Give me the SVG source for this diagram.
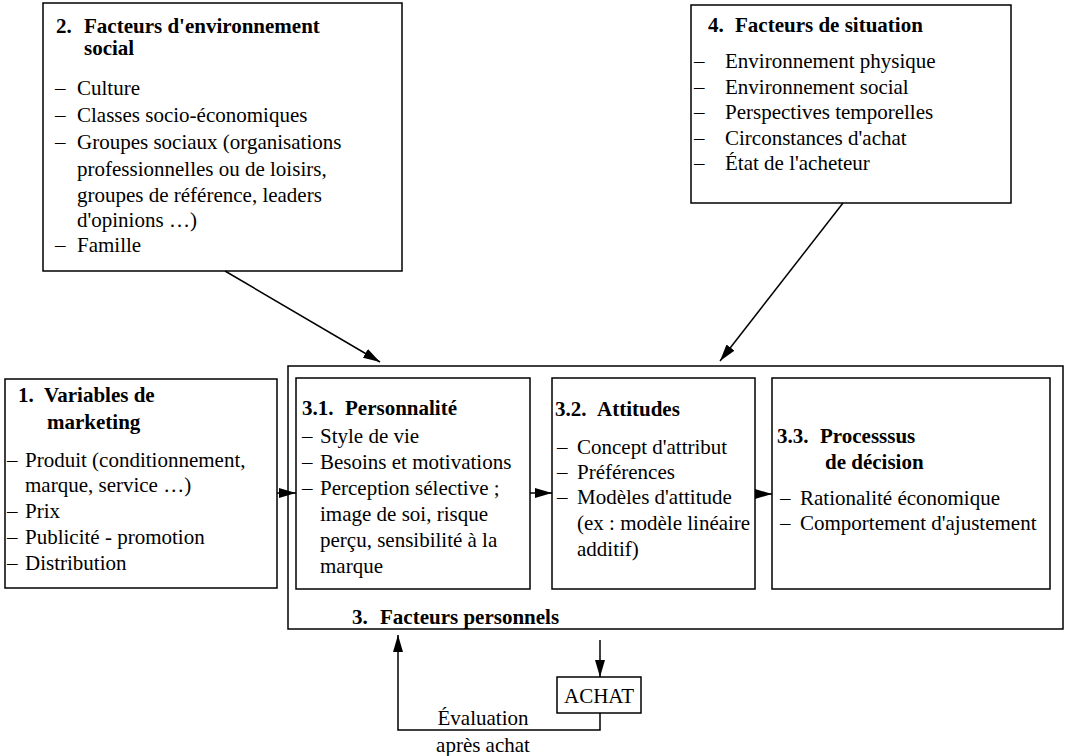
<svg xmlns="http://www.w3.org/2000/svg" width="1074" height="756" viewBox="0 0 1074 756">
<style>
text{font-family:"Liberation Serif","Times New Roman",serif;font-size:21px;fill:#000}
.b{font-weight:bold}
.box{fill:none;stroke:#000;stroke-width:1.5}
.ln{fill:none;stroke:#000;stroke-width:1.5}
</style>
<defs>
<marker id="ah" markerUnits="userSpaceOnUse" markerWidth="18" markerHeight="10" refX="17" refY="5" orient="auto">
<path d="M0,0 L17,5 L0,10 z" fill="#000"/>
</marker>
</defs>
<rect width="1074" height="756" fill="#fff"/>

<g id="n2">
<rect class="box" x="43" y="3" width="359" height="268"/>
<text class="b" x="56" y="33">2.</text><text class="b" x="84" y="33">Facteurs d'environnement</text>
<text class="b" x="84" y="55">social</text>
<text x="55" y="95">–</text><text x="77" y="95">Culture</text>
<text x="55" y="122">–</text><text x="77" y="122">Classes socio-économiques</text>
<text x="55" y="149">–</text><text x="77" y="149">Groupes sociaux (organisations</text>
<text x="77" y="176">professionnelles ou de loisirs,</text>
<text x="77" y="202">groupes de référence, leaders</text>
<text x="77" y="227">d'opinions …)</text>
<text x="55" y="252">–</text><text x="77" y="252">Famille</text>
</g>

<g id="n4">
<rect class="box" x="691" y="5" width="320" height="198"/>
<text class="b" x="708" y="32">4.</text><text class="b" x="735" y="32">Facteurs de situation</text>
<text x="694" y="68">–</text><text x="725" y="68">Environnement physique</text>
<text x="694" y="94">–</text><text x="725" y="94">Environnement social</text>
<text x="694" y="119">–</text><text x="725" y="119">Perspectives temporelles</text>
<text x="694" y="145">–</text><text x="725" y="145">Circonstances d'achat</text>
<text x="694" y="170">–</text><text x="725" y="170">État de l'acheteur</text>
</g>

<g id="n1">
<rect class="box" x="5" y="379" width="272" height="209"/>
<text class="b" x="18" y="402">1.</text><text class="b" x="44" y="402">Variables de</text>
<text class="b" x="47" y="429">marketing</text>
<text x="7" y="467">–</text><text x="25" y="467">Produit (conditionnement,</text>
<text x="25" y="492">marque, service …)</text>
<text x="7" y="518">–</text><text x="25" y="518">Prix</text>
<text x="7" y="544">–</text><text x="25" y="544">Publicité - promotion</text>
<text x="7" y="570">–</text><text x="25" y="570">Distribution</text>
</g>

<g id="n3">
<rect class="box" x="288" y="366" width="775" height="263"/>
<text class="b" x="352" y="624">3.</text><text class="b" x="380" y="624">Facteurs personnels</text>
</g>

<g id="n31">
<rect class="box" x="296" y="378" width="234" height="211"/>
<text class="b" x="302" y="415">3.1.</text><text class="b" x="345" y="415">Personnalité</text>
<text x="302" y="443">–</text><text x="320" y="443">Style de vie</text>
<text x="302" y="469">–</text><text x="320" y="469">Besoins et motivations</text>
<text x="302" y="495">–</text><text x="320" y="495">Perception sélective ;</text>
<text x="320" y="521">image de soi, risque</text>
<text x="320" y="547">perçu, sensibilité à la</text>
<text x="320" y="573">marque</text>
</g>

<g id="n32">
<rect class="box" x="552" y="378" width="203" height="211"/>
<text class="b" x="555" y="416">3.2.</text><text class="b" x="597" y="416">Attitudes</text>
<text x="557" y="454">–</text><text x="577" y="454">Concept d'attribut</text>
<text x="557" y="479">–</text><text x="577" y="479">Préférences</text>
<text x="557" y="504">–</text><text x="577" y="504">Modèles d'attitude</text>
<text x="577" y="530">(ex : modèle linéaire</text>
<text x="577" y="556">additif)</text>
</g>

<g id="n33">
<rect class="box" x="772" y="378" width="278" height="211"/>
<text class="b" x="777" y="443">3.3.</text><text class="b" x="820" y="443">Processsus</text>
<text class="b" x="825" y="469">de décision</text>
<text x="780" y="505">–</text><text x="800" y="505">Rationalité économique</text>
<text x="780" y="530">–</text><text x="800" y="530">Comportement d'ajustement</text>
</g>

<g id="achat">
<rect class="box" x="557" y="677" width="84" height="36"/>
<text x="599" y="703" text-anchor="middle">ACHAT</text>
</g>

<g id="connectors">
<line class="ln" x1="225" y1="271" x2="380" y2="362" marker-end="url(#ah)"/>
<line class="ln" x1="843" y1="203" x2="720" y2="361" marker-end="url(#ah)"/>
<line class="ln" x1="277" y1="493" x2="296" y2="493" marker-end="url(#ah)"/>
<line class="ln" x1="530" y1="493" x2="552" y2="493" marker-end="url(#ah)"/>
<line class="ln" x1="755" y1="494" x2="772" y2="494" marker-end="url(#ah)"/>
<line class="ln" x1="600" y1="640" x2="600" y2="677" marker-end="url(#ah)"/>
<polyline class="ln" points="600,713 600,730 398,730 398,635" marker-end="url(#ah)"/>
<text x="483" y="725" text-anchor="middle">Évaluation</text>
<text x="483" y="752" text-anchor="middle">après achat</text>
</g>
</svg>
